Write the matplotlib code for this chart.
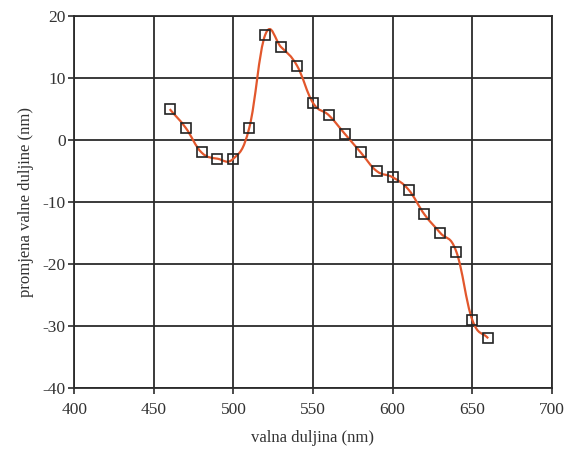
import numpy as np
import matplotlib
matplotlib.use("Agg")
import matplotlib.pyplot as plt
from matplotlib.path import Path
from matplotlib.patches import PathPatch

plt.rcParams['font.family'] = ['Liberation Serif', 'DejaVu Serif']
plt.rcParams['axes.unicode_minus'] = False

# measured points
wavelength = [460, 470, 480, 490, 500, 510, 520, 530, 540, 550, 560,
              570, 580, 590, 600, 610, 620, 630, 640, 650, 660]
shift = [5, 2, -2, -3, -3, 2, 17, 15, 12, 6, 4,
         1, -2, -5, -6, -8, -12, -15, -18, -29, -32]

x_ticks = [400, 450, 500, 550, 600, 650, 700]
y_ticks = [-40, -30, -20, -10, 0, 10, 20]

line_col = "#e2572c"
grid_col = "#2b2b2b"


def smooth_path(xs, ys, k=5.0):
    # catmull-rom style -> cubic bezier segments through the points
    xs = np.asarray(xs, float)
    ys = np.asarray(ys, float)
    n = len(xs)
    verts = [(xs[0], ys[0])]
    codes = [Path.MOVETO]
    for i in range(n - 1):
        i0 = max(i - 1, 0)
        i3 = min(i + 2, n - 1)
        d1 = k if i0 != i else k / 2
        d2 = k if i3 != i + 1 else k / 2
        verts += [(xs[i] + (xs[i + 1] - xs[i0]) / d1,
                   ys[i] + (ys[i + 1] - ys[i0]) / d1),
                  (xs[i + 1] - (xs[i3] - xs[i]) / d2,
                   ys[i + 1] - (ys[i3] - ys[i]) / d2),
                  (xs[i + 1], ys[i + 1])]
        codes += [Path.CURVE4] * 3
    return Path(verts, codes)


fig = plt.figure(figsize=(5.66, 4.5), dpi=100)
ax = fig.add_axes([0.131, 0.138, 0.844, 0.826])

ax.set_xlim(400, 700)
ax.set_ylim(-40, 20)
ax.set_xticks(x_ticks)
ax.set_yticks(y_ticks)
ax.grid(True, color=grid_col, linewidth=1.3)
ax.set_axisbelow(True)
for s in ax.spines.values():
    s.set_color(grid_col)
    s.set_linewidth(1.3)

ax.add_patch(PathPatch(smooth_path(wavelength, shift), facecolor="none",
                       edgecolor=line_col, linewidth=1.6, zorder=3))
ax.plot(wavelength, shift, linestyle="none", marker="s", markersize=7.5,
        markerfacecolor="none", markeredgecolor="#222222",
        markeredgewidth=1.2, zorder=4)

ax.tick_params(direction="out", length=4, width=1.2, color=grid_col,
               labelsize=12.5, labelcolor="#333333", pad=2)
ax.tick_params(axis="x", pad=6)
ax.set_xlabel("valna duljina (nm)", fontsize=12, color="#333333", labelpad=9)
ax.set_ylabel("promjena valne duljine (nm)", fontsize=12, color="#333333",
              labelpad=6)

plt.savefig("out.png", dpi=100)
